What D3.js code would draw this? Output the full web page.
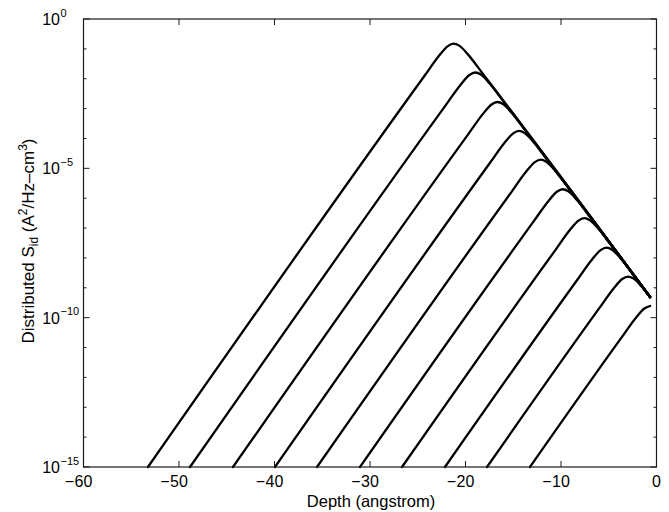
<!DOCTYPE html>
<html>
<head>
<meta charset="utf-8">
<script src="https://cdn.jsdelivr.net/npm/d3@7"></script>
<style>
  html, body { margin: 0; padding: 0; background: #fff; }
  svg { display: block; font-family: "Liberation Sans", Arial, Helvetica, sans-serif; }
</style>
</head>
<body>
<svg id="chart" width="669" height="512"></svg>
<script>
// ---- Data (depth in angstrom, log10 of distributed S_id) ----
const xTicks = [-60, -50, -40, -30, -20, -10, 0];
const yMajorExp = [0, -5, -10, -15];
const yMinorExp = [-1, -2, -3, -4, -6, -7, -8, -9, -11, -12, -13, -14];

const curve1  = [[-53.25,-15],[-24.25,-1.883],[-22.75,-1.222],[-21.85,-0.907],[-21.25,-0.824],[-20.65,-0.892],[-19.75,-1.184],[-18.25,-1.806],[-0.67,-9.31]];
const curve2  = [[-48.85,-15],[-21.99,-2.851],[-20.49,-2.190],[-19.59,-1.875],[-18.99,-1.792],[-18.39,-1.860],[-17.49,-2.152],[-15.99,-2.774],[-0.67,-9.31]];
const curve3  = [[-44.35,-15],[-19.67,-3.838],[-18.17,-3.177],[-17.27,-2.862],[-16.67,-2.779],[-16.07,-2.847],[-15.17,-3.139],[-13.67,-3.761],[-0.67,-9.31]];
const curve4  = [[-39.95,-15],[-17.41,-4.806],[-15.91,-4.145],[-15.01,-3.830],[-14.41,-3.747],[-13.81,-3.815],[-12.91,-4.107],[-11.41,-4.729],[-0.67,-9.31]];
const curve5  = [[-35.55,-15],[-15.14,-5.769],[-13.64,-5.108],[-12.74,-4.793],[-12.14,-4.710],[-11.54,-4.778],[-10.64,-5.070],[-9.14,-5.692],[-0.67,-9.31]];
const curve6  = [[-31.05,-15],[-12.83,-6.760],[-11.33,-6.099],[-10.43,-5.784],[-9.83,-5.701],[-9.23,-5.769],[-8.33,-6.061],[-6.83,-6.683],[-0.67,-9.31]];
const curve7  = [[-26.65,-15],[-10.57,-7.728],[-9.07,-7.067],[-8.17,-6.752],[-7.57,-6.669],[-6.97,-6.737],[-6.07,-7.029],[-4.57,-7.651],[-0.67,-9.31]];
const curve8  = [[-22.15,-15],[-8.25,-8.714],[-6.75,-8.053],[-5.85,-7.738],[-5.25,-7.655],[-4.65,-7.723],[-3.75,-8.015],[-2.25,-8.637],[-0.67,-9.31]];
const curve9  = [[-17.75,-15],[-5.99,-9.683],[-4.49,-9.022],[-3.59,-8.707],[-2.99,-8.624],[-2.39,-8.692],[-1.49,-8.984],[-0.67,-9.31]];
const curve10 = [[-13.25,-15],[-3.67,-10.669],[-2.17,-10.008],[-1.27,-9.693],[-0.67,-9.610]];
const curves = [curve1, curve2, curve3, curve4, curve5, curve6, curve7, curve8, curve9, curve10];

// ---- Layout ----
const svg = d3.select("#chart");
const L = 83.5, R = 656.5, T = 19, B = 467;
const x = d3.scaleLinear().domain([-60, 0]).range([L, R]);
const y = d3.scaleLog().domain([1e-15, 1]).range([B, T]);
const axisColor = "#1a1a1a";

// Curves
const line = d3.line()
  .x(d => x(d[0]))
  .y(d => y(Math.pow(10, d[1])))
  .curve(d3.curveMonotoneX);

svg.append("g").attr("class", "curves")
  .selectAll("path").data(curves).enter().append("path")
  .attr("d", line)
  .attr("fill", "none")
  .attr("stroke", "#000")
  .attr("stroke-width", 2.3)
  .attr("stroke-linejoin", "round")
  .attr("stroke-linecap", "round");

// Box
svg.append("rect")
  .attr("x", L).attr("y", T).attr("width", R - L).attr("height", B - T)
  .attr("fill", "none").attr("stroke", axisColor).attr("stroke-width", 1.2);

// X ticks (inward, bottom and top)
const tickG = svg.append("g").attr("stroke", axisColor).attr("stroke-width", 1);
xTicks.forEach(v => {
  tickG.append("line").attr("x1", x(v)).attr("x2", x(v)).attr("y1", B).attr("y2", B - 6);
  tickG.append("line").attr("x1", x(v)).attr("x2", x(v)).attr("y1", T).attr("y2", T + 6);
});
// Y ticks (inward, left and right)
yMajorExp.forEach(e => {
  const yy = y(Math.pow(10, e));
  tickG.append("line").attr("x1", L).attr("x2", L + 6).attr("y1", yy).attr("y2", yy);
  tickG.append("line").attr("x1", R).attr("x2", R - 6).attr("y1", yy).attr("y2", yy);
});
yMinorExp.forEach(e => {
  const yy = y(Math.pow(10, e));
  tickG.append("line").attr("x1", L).attr("x2", L + 3).attr("y1", yy).attr("y2", yy);
  tickG.append("line").attr("x1", R).attr("x2", R - 3).attr("y1", yy).attr("y2", yy);
});

// X tick labels: digits centred on tick, minus sign hanging to the left
const xl = svg.append("g").attr("font-size", 16).attr("fill", "#000");
xTicks.forEach(v => {
  const digits = String(Math.abs(v));
  const t = xl.append("text").attr("x", x(v)).attr("y", 487)
    .attr("text-anchor", "middle").text(digits);
  if (v < 0) {
    const w = t.node().getComputedTextLength();
    xl.append("text").attr("x", x(v) - w / 2 - 0.5).attr("y", 487)
      .attr("text-anchor", "end").text("\u2212");
  }
});

// Y tick labels: "10" with superscript exponent
const yl = svg.append("g").attr("fill", "#000");
yMajorExp.forEach(e => {
  const yy = y(Math.pow(10, e));
  yl.append("text").attr("x", 60).attr("y", yy + 6)
    .attr("text-anchor", "end").attr("font-size", 16).text("10");
  yl.append("text").attr("x", 60.5).attr("y", yy - 2.5)
    .attr("text-anchor", "start").attr("font-size", 11)
    .text(e === 0 ? "0" : "\u2212" + Math.abs(e));
});

// Axis titles
svg.append("text").attr("x", 371).attr("y", 507)
  .attr("text-anchor", "middle").attr("font-size", 16.5).text("Depth (angstrom)");

const yt = svg.append("text")
  .attr("transform", "translate(34,241) rotate(-90)")
  .attr("text-anchor", "middle").attr("font-size", 17);
yt.append("tspan").text("Distributed S");
yt.append("tspan").attr("font-size", 12).attr("dy", 4).text("id");
yt.append("tspan").attr("dy", -4).text(" (A");
yt.append("tspan").attr("font-size", 12).attr("dy", -7).text("2");
yt.append("tspan").attr("dy", 7).text("/Hz\u2013cm");
yt.append("tspan").attr("font-size", 12).attr("dy", -7).text("3");
yt.append("tspan").attr("dy", 7).text(")");
</script>
</body>
</html>
